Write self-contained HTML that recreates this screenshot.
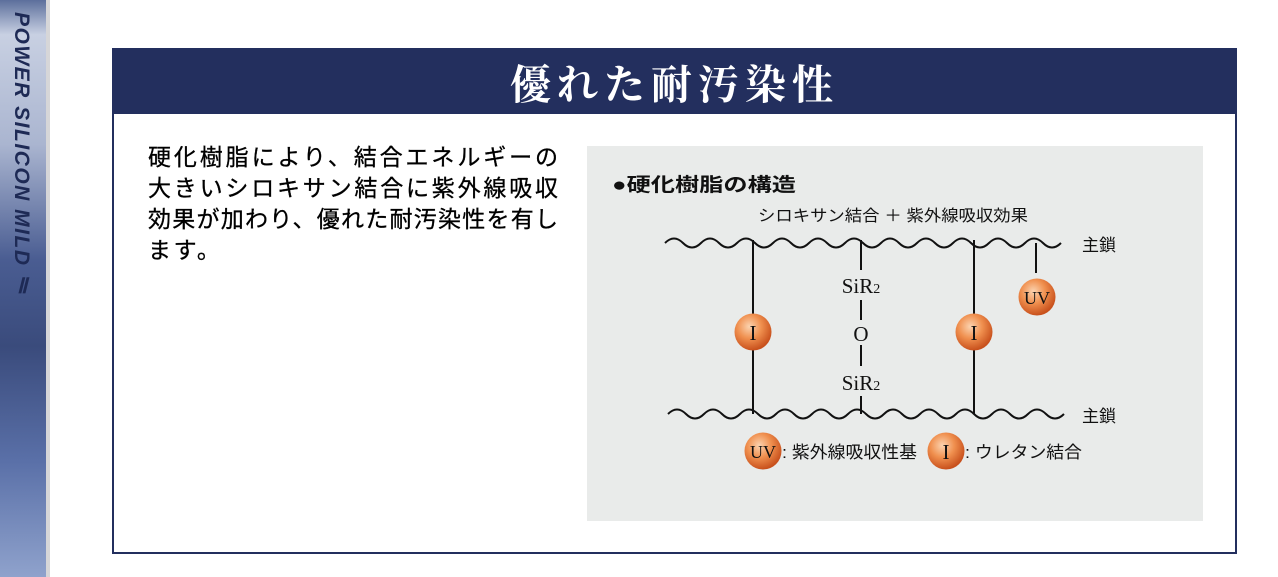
<!DOCTYPE html>
<html><head><meta charset="utf-8"><style>
body{margin:0;width:1278px;height:577px;overflow:hidden;background:#fff;font-family:"Liberation Sans","Noto Sans CJK JP",sans-serif;position:relative}
.side{position:absolute;left:0;top:0;width:46px;height:577px;background:linear-gradient(180deg,#5c6f9c 0%,#c8d0e2 6%,#aab5d0 25%,#4a5d92 45%,#3a4b7c 60%,#5a70a8 80%,#8fa2cc 100%)}
.sline{position:absolute;left:46px;top:0;width:4px;height:577px;background:#d6d6d8}
.stxt{position:absolute;left:9px;top:12px;writing-mode:vertical-rl;font:italic bold 21px "Liberation Sans",sans-serif;color:#1e2a55;letter-spacing:1.5px}
.box{position:absolute;left:112px;top:48px;width:1121px;height:502px;border:2px solid #232f5e}
.head{position:absolute;left:0;top:0;width:1121px;height:64px;background:#232f5e;color:#fff;text-align:center;font:bold 41px "Noto Serif CJK SC","Liberation Serif",serif;line-height:64px;letter-spacing:6px}
.txt{position:absolute;left:148px;top:142px;font-size:23px;line-height:31px;color:#000;-webkit-text-stroke:0.3px #000;white-space:nowrap}
.txt div{width:410px;text-align:justify;text-align-last:justify;white-space:normal;word-break:break-all}
.txt div.l{text-align-last:left;letter-spacing:2.6px}
</style></head><body>
<div class="side"></div><div class="sline"></div>
<div class="stxt">POWER SILICON MILD Ⅱ</div>
<div class="box"><div class="head">優れた耐汚染性</div></div>
<div class="txt"><div>硬化樹脂により、結合エネルギーの</div><div>大きいシロキサン結合に紫外線吸収</div><div>効果が加わり、優れた耐汚染性を有し</div><div class="l">ます。</div></div>
<svg style="position:absolute;left:0;top:0" width="1278" height="577">
<defs><radialGradient id="g" cx="40%" cy="35%" r="65%"><stop offset="0" stop-color="#fbd3b0"/><stop offset="0.5" stop-color="#f0904f"/><stop offset="1" stop-color="#c8501c"/></radialGradient></defs>
<rect x="587" y="146" width="616" height="375" fill="#e9ebea"/>
<text x="612" y="191" font-size="19" font-weight="bold" fill="#111" textLength="184" lengthAdjust="spacingAndGlyphs">●硬化樹脂の構造</text>
<text x="758" y="221" font-size="16" fill="#111" textLength="270" lengthAdjust="spacingAndGlyphs">シロキサン結合 ＋ 紫外線吸収効果</text>
<g fill="none" stroke="#111" stroke-width="2">
<path d="M665 243 q9 -9 18 0 t18 0 t18 0 t18 0 t18 0 t18 0 t18 0 t18 0 t18 0 t18 0 t18 0 t18 0 t18 0 t18 0 t18 0 t18 0 t18 0 t18 0 t18 0 t18 0 t18 0 t18 0"/>
<path d="M668 414 q9 -9 18 0 t18 0 t18 0 t18 0 t18 0 t18 0 t18 0 t18 0 t18 0 t18 0 t18 0 t18 0 t18 0 t18 0 t18 0 t18 0 t18 0 t18 0 t18 0 t18 0 t18 0 t18 0"/>
<path d="M753 240V315M753 349V414M974 240V315M974 349V414M1036 243V273M861 240V270M861 300V320M861 345V366M861 396V414"/>
</g>
<text x="1082" y="251" font-size="17" fill="#111">主鎖</text>
<text x="1082" y="422" font-size="17" fill="#111">主鎖</text>
<g font-family="Liberation Serif,serif" font-size="21" fill="#111" text-anchor="middle">
<text x="861" y="293">SiR<tspan font-size="14">2</tspan></text>
<text x="861" y="341">O</text>
<text x="861" y="390">SiR<tspan font-size="14">2</tspan></text>
</g>
<g stroke="none" fill="url(#g)">
<circle cx="753" cy="332" r="18.5"/><circle cx="974" cy="332" r="18.5"/><circle cx="1037" cy="297" r="18.5"/>
<circle cx="763" cy="451" r="18.5"/><circle cx="946" cy="451" r="18.5"/>
</g>
<g font-family="Liberation Serif,serif" font-size="21" fill="#111" text-anchor="middle">
<text x="753" y="340">I</text><text x="974" y="340">I</text><text x="1037" y="304" font-size="18">UV</text>
<text x="763" y="458" font-size="18">UV</text><text x="946" y="459">I</text>
</g>
<text x="782" y="458" font-size="17" fill="#111" textLength="135" lengthAdjust="spacingAndGlyphs">: 紫外線吸収性基</text>
<text x="965" y="458" font-size="17" fill="#111" textLength="117" lengthAdjust="spacingAndGlyphs">: ウレタン結合</text>
</svg>
</body></html>
